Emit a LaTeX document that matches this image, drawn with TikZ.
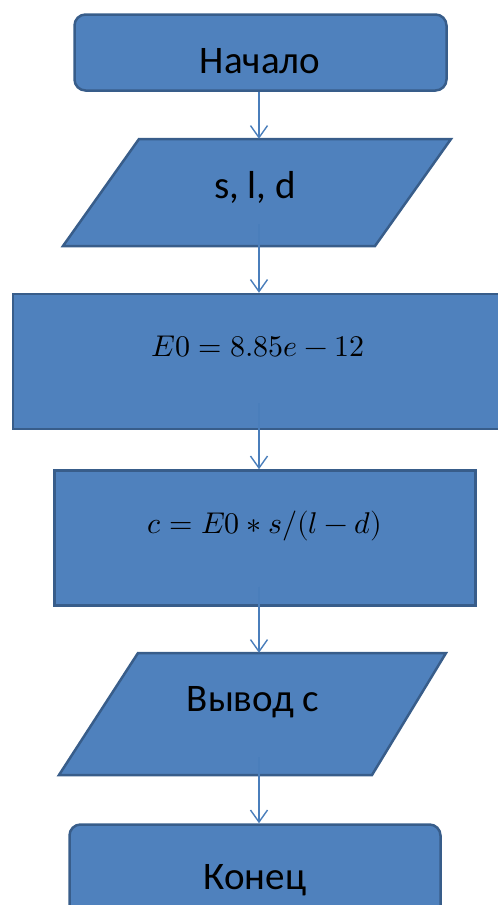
\documentclass[tikz,border=0pt]{standalone}
\usepackage{fontspec}
\usepackage{unicode-math}
\setmainfont{Carlito}
\setmathfont{Latin Modern Math}
\usetikzlibrary{arrows.meta}
\definecolor{boxfill}{HTML}{4F81BD}
\definecolor{boxline}{HTML}{385D8A}
\definecolor{arrowc}{HTML}{4A7EBB}
\tikzset{
  blockbox/.style={draw=boxline, fill=boxfill, line width=2.5pt, inner sep=0pt},
  termbox/.style={blockbox, rounded corners=11pt},
  ghost/.style={draw=none, inner sep=0pt},
  conn/.style={draw=arrowc, line width=1.4pt, -{Straight Barb[length=12pt,width=17pt,line width=1.4pt]}},
  label/.style={inner sep=0pt, anchor=base, text=black},
  txt/.style={label, font=\fontsize{39}{44}\selectfont},
  mth/.style={label, font=\fontsize{30}{36}\selectfont},
}
\begin{document}
\begin{tikzpicture}[x=1pt,y=-1pt]
\useasboundingbox (0,0) rectangle (498,905);
\clip (0,0) rectangle (498,905);
\coordinate (axis) at (259,0);
% start
\node[termbox, minimum width=372pt, minimum height=76pt] (start) at (260.5,52.5) {};
\node[txt] (t1) at (260,73) {Начало};
% input parallelogram
\draw[blockbox] (63,246) -- (375,246) -- (451,139) -- (139,139) -- cycle;
\node[ghost, minimum width=388pt, minimum height=107pt] (in) at (257,192.5) {};
\node[txt] (t2) at (255,198) {s, l, d};
% process 1
\node[blockbox, minimum width=500pt, minimum height=135pt] (p1) at (263,361.5) {};
\node[mth] (t3) at (258,356) {$E0=8.85e-12$};
% process 2
\node[blockbox, minimum width=421pt, minimum height=135pt] (p2) at (265,538) {};
\node[mth] (t4) at (265,533) {$c=E0*s/(l-d)$};
% output parallelogram
\draw[blockbox] (59,775) -- (372,775) -- (446,653) -- (138,653) -- cycle;
\node[ghost, minimum width=387pt, minimum height=122pt] (out) at (252.5,714) {};
\node[txt] (t5) at (253,711) {Вывод с};
% end
\node[termbox, minimum width=371pt, minimum height=100pt] (end) at (255,874.5) {};
\node[txt] (t6) at (255,889) {Конец};
% connectors
\draw[conn] (start.south -| axis) -- (in.north -| axis);
\draw[conn] ([yshift=22pt]in.south -| axis) -- (p1.north -| axis);
\draw[conn] ([yshift=27pt]p1.south -| axis) -- (p2.north -| axis);
\draw[conn] ([yshift=20pt]p2.south -| axis) -- (out.north -| axis);
\draw[conn] ([yshift=18pt]out.south -| axis) -- (end.north -| axis);
\end{tikzpicture}
\end{document}
